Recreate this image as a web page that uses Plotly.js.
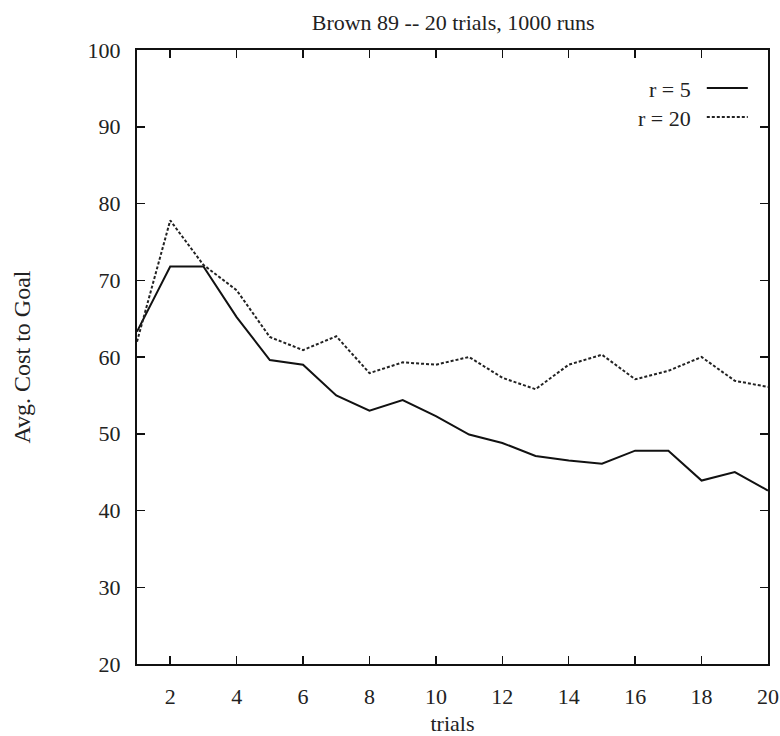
<!DOCTYPE html>
<html>
<head>
<meta charset="utf-8">
<script src="https://cdn.plot.ly/plotly-3.0.1.min.js"></script>
<style>html,body{margin:0;padding:0;background:#fff;}#chart{width:780px;height:736px;}</style>
</head>
<body>
<div id="chart"></div>
<script>
var trials = [1,2,3,4,5,6,7,8,9,10,11,12,13,14,15,16,17,18,19,20];
var r5  = [63.3,71.8,71.8,65.2,59.6,59.0,55.0,53.0,54.4,52.3,49.9,48.8,47.1,46.5,46.1,47.8,47.8,43.9,45.0,42.6];
var r20 = [62.0,77.8,72.0,68.7,62.6,60.9,62.7,57.9,59.3,59.0,60.0,57.3,55.8,59.0,60.3,57.1,58.2,60.0,56.9,56.1];
var seriesNames = ["r = 5", "r = 20"];
var xTicks = [2,4,6,8,10,12,14,16,18,20];
var yTicks = [20,30,40,50,60,70,80,90,100];

var fam = "Liberation Serif, Times New Roman, serif";
var font = {family: fam, size: 22, color: "#222"};

var traces = [
  {x: trials, y: r5, name: seriesNames[0], mode: "lines", type: "scatter",
   line: {color: "#111", width: 2}},
  {x: trials, y: r20, name: seriesNames[1], mode: "lines", type: "scatter",
   line: {color: "#222", width: 2, dash: "3px,2px"}}
];

var layout = {
  width: 780, height: 736,
  margin: {l: 137, r: 12, t: 50, b: 72},
  paper_bgcolor: "#fff", plot_bgcolor: "#fff",
  font: font,
  showlegend: false,
  title: {text: "Brown 89 -- 20 trials, 1000 runs", x: 0.581, xanchor: "center", y: 0.970, yanchor: "middle", font: {family: fam, size: 22, color: "#222"}},
  xaxis: {
    range: [1, 20], tickvals: xTicks, ticktext: xTicks.map(String),
    ticks: "inside", ticklen: 8, tickwidth: 1.5, tickcolor: "#111",
    showline: true, linecolor: "#111", linewidth: 2, mirror: "ticks",
    showgrid: false, zeroline: false, ticklabelstandoff: 12,
    tickfont: {family: fam, size: 22, color: "#222"},
    title: {text: "trials", standoff: 7, font: {family: fam, size: 22, color: "#222"}}
  },
  yaxis: {
    range: [20, 100], tickvals: yTicks, ticktext: yTicks.map(String),
    ticks: "inside", ticklen: 8, tickwidth: 1.5, tickcolor: "#111",
    showline: true, linecolor: "#111", linewidth: 2, mirror: "ticks",
    showgrid: false, zeroline: false, ticklabelstandoff: 10,
    tickfont: {family: fam, size: 22, color: "#222"},
    title: {text: "Avg. Cost to Goal", standoff: 50, font: {family: fam, size: 24, color: "#222"}}
  },
  annotations: [
    {xref: "paper", yref: "paper", x: 0.881, y: 0.936, xanchor: "right", yanchor: "middle", text: seriesNames[0], showarrow: false, font: font},
    {xref: "paper", yref: "paper", x: 0.881, y: 0.889, xanchor: "right", yanchor: "middle", text: seriesNames[1], showarrow: false, font: font}
  ],
  shapes: [
    {type: "line", xref: "paper", yref: "paper", x0: 0.903, x1: 0.968, y0: 0.938, y1: 0.938, line: {color: "#111", width: 2}},
    {type: "line", xref: "paper", yref: "paper", x0: 0.903, x1: 0.968, y0: 0.891, y1: 0.891, line: {color: "#222", width: 2, dash: "3px,2px"}}
  ]
};

Plotly.newPlot("chart", traces, layout, {displayModeBar: false, staticPlot: true});
</script>
</body>
</html>
